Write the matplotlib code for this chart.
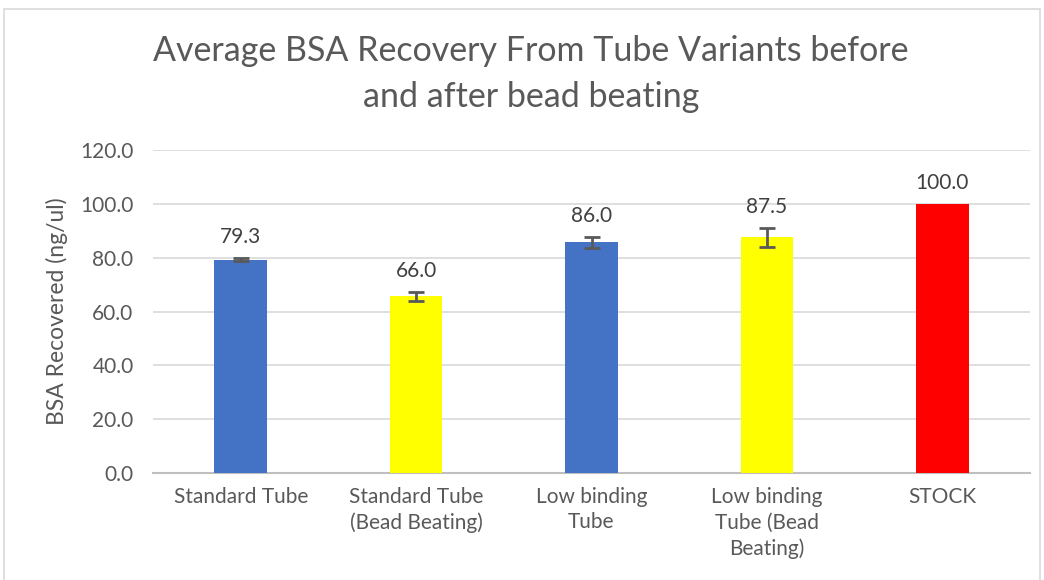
"""Average BSA recovery from tube variants, before and after bead beating."""

import matplotlib.pyplot as plt
from matplotlib.patches import Rectangle

categories = [
    "Standard Tube",
    "Standard Tube\n(Bead Beating)",
    "Low binding\nTube",
    "Low binding\nTube (Bead\nBeating)",
    "STOCK",
]
recovery = [79.3, 65.6, 85.7, 87.5, 100.0]
recovery_err = [0.7, 1.6, 2.0, 3.7, 0.0]
value_labels = ["79.3", "66.0", "86.0", "87.5", "100.0"]
bar_colors = ["#4472C4", "#FFFF00", "#4472C4", "#FFFF00", "#FF0000"]
y_ticks = [0, 20, 40, 60, 80, 100, 120]

TEXT = "#595959"
plt.rcParams["font.family"] = ["Lato", "DejaVu Sans"]

fig = plt.figure(figsize=(10.44, 5.80), dpi=100)
ax = fig.add_axes([153 / 1044, 1 - 473 / 580, (1030 - 153) / 1044, (473 - 150) / 580])

x = list(range(len(categories)))
ax.bar(x, recovery, width=0.3, color=bar_colors, zorder=3)

# STOCK has no spread, so no error bar drawn for it
with_err = [i for i, e in enumerate(recovery_err) if e > 0]
ax.errorbar([x[i] for i in with_err], [recovery[i] for i in with_err],
            yerr=[recovery_err[i] for i in with_err], fmt="none",
            ecolor="#595959", elinewidth=2, capsize=6, capthick=2, zorder=4)

for i, (v, e, lab) in enumerate(zip(recovery, recovery_err, value_labels)):
    ax.text(i, v + e + 4, lab, ha="center", va="bottom", fontsize=15, color="#404040")

ax.set_xlim(-0.5, len(categories) - 0.5)
ax.set_ylim(0, 120)
ax.set_yticks(y_ticks)
ax.set_yticklabels([f"{t:.1f}" for t in y_ticks])
ax.set_xticks(x)
ax.set_xticklabels(categories, linespacing=1.35)
ax.tick_params(axis="both", length=0, labelsize=15, colors=TEXT)
ax.tick_params(axis="y", pad=14)
ax.tick_params(axis="x", pad=10)
ax.grid(axis="y", color="#D9D9D9", linewidth=1.2, zorder=0)
for side in ["top", "right", "left"]:
    ax.spines[side].set_visible(False)
ax.spines["bottom"].set_color("#BFBFBF")
ax.spines["bottom"].set_linewidth(1.5)

ax.set_ylabel("BSA Recovered (ng/ul)", fontsize=16.5, color=TEXT, labelpad=9)

fig.text(531 / 1044, 1 - 51 / 580, "Average BSA Recovery From Tube Variants before",
         ha="center", va="center", fontsize=24.5, color=TEXT)
fig.text(531 / 1044, 1 - 97 / 580, "and after bead beating",
         ha="center", va="center", fontsize=24.5, color=TEXT)

# chart frame
fig.patches.append(Rectangle((4 / 1044, -0.05), (1040 - 4) / 1044, 1.05 - 9 / 580,
                             transform=fig.transFigure, fill=False,
                             edgecolor="#D9D9D9", linewidth=1.2))

fig.savefig("out.png", dpi=100)
